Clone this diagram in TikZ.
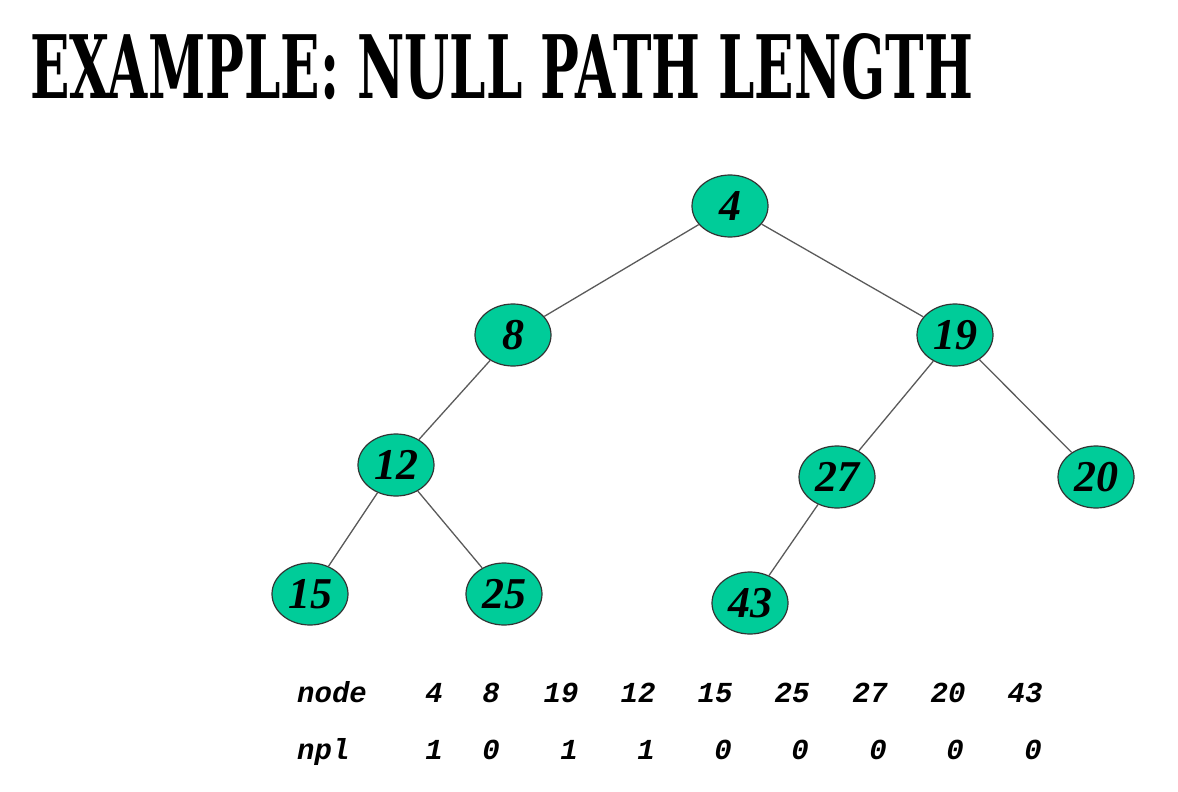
\documentclass[tikz,border=0pt]{standalone}
\usepackage{fontspec}
\setmainfont{Liberation Serif}
\newfontfamily\monofont{Liberation Mono}
\newfontfamily\titlefont{DejaVu Serif}
\usetikzlibrary{shapes.geometric}
\definecolor{nodegreen}{HTML}{00CC99}
\definecolor{edgegray}{HTML}{5A5A5A}
\tikzset{
  tnode/.style={ellipse, draw=black!80, line width=1.2pt, fill=nodegreen,
    minimum width=76pt, minimum height=62pt, inner sep=0pt,
    font=\fontsize{44}{44}\selectfont\bfseries\itshape},
  tedge/.style={draw=edgegray, line width=1.3pt},
  tbl/.style={font=\fontsize{29}{29}\selectfont\monofont\bfseries\itshape, inner sep=0pt},
}
\begin{document}
\begin{tikzpicture}[x=1pt,y=-1pt]
\useasboundingbox (0,0) rectangle (1178,792);
\node[anchor=south west, inner sep=0pt] (title) at (30,100)
  {\resizebox{943pt}{65pt}{\titlefont\bfseries EXAMPLE: NULL PATH LENGTH}};
\node[tnode] (n4) at (730,206) {4};
\node[tnode] (n8) at (513,335) {8};
\node[tnode] (n19) at (955,335) {19};
\node[tnode] (n12) at (396,465) {12};
\node[tnode] (n27) at (837,477) {27};
\node[tnode] (n20) at (1096,477) {20};
\node[tnode] (n15) at (310,594) {15};
\node[tnode] (n25) at (504,594) {25};
\node[tnode] (n43) at (750,603) {43};
\draw[tedge] (n4) -- (n8);
\draw[tedge] (n4) -- (n19);
\draw[tedge] (n8) -- (n12);
\draw[tedge] (n19) -- (n27);
\draw[tedge] (n19) -- (n20);
\draw[tedge] (n12) -- (n15);
\draw[tedge] (n12) -- (n25);
\draw[tedge] (n27) -- (n43);
% table
\node[tbl, anchor=base west] (hnode) at (297,702) {node};
\node[tbl, anchor=base west] (hnpl) at (297,759) {npl};
\node[tbl, anchor=base] (c1) at (434,702) {4};
\node[tbl, anchor=base] (c2) at (491,702) {8};
\node[tbl, anchor=base] (c3) at (561,702) {19};
\node[tbl, anchor=base] (c4) at (638,702) {12};
\node[tbl, anchor=base] (c5) at (715,702) {15};
\node[tbl, anchor=base] (c6) at (792,702) {25};
\node[tbl, anchor=base] (c7) at (870,702) {27};
\node[tbl, anchor=base] (c8) at (948,702) {20};
\node[tbl, anchor=base] (c9) at (1025,702) {43};
\node[tbl, anchor=base] (v1) at (434,759) {1};
\node[tbl, anchor=base] (v2) at (491,759) {0};
\node[tbl, anchor=base] (v3) at (569,759) {1};
\node[tbl, anchor=base] (v4) at (646,759) {1};
\node[tbl, anchor=base] (v5) at (723,759) {0};
\node[tbl, anchor=base] (v6) at (800,759) {0};
\node[tbl, anchor=base] (v7) at (878,759) {0};
\node[tbl, anchor=base] (v8) at (955,759) {0};
\node[tbl, anchor=base] (v9) at (1033,759) {0};
\end{tikzpicture}
\end{document}
